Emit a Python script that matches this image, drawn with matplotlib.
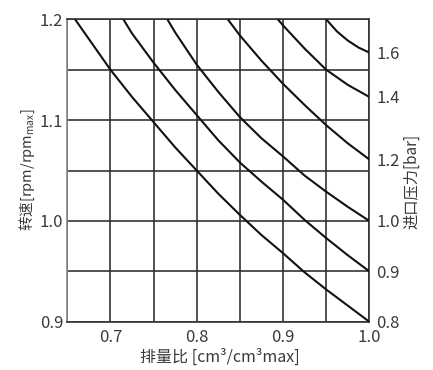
import matplotlib
matplotlib.use("Agg")
import matplotlib.pyplot as plt
from matplotlib.ticker import MultipleLocator

plt.rcParams['font.family'] = ['Noto Sans CJK SC', 'DejaVu Sans']
plt.rcParams['font.weight'] = 'light'
plt.rcParams['mathtext.fontset'] = 'custom'
plt.rcParams['mathtext.rm'] = 'Noto Sans CJK SC'

# displacement ratio / speed ratio readings for each inlet pressure
x_08 = [0.659, 0.70, 0.725, 0.75, 0.775, 0.80, 0.825, 0.85, 0.875, 0.90, 0.925, 0.95, 0.975, 1.00]
y_08 = [1.200, 1.150, 1.123, 1.098, 1.073, 1.050, 1.027, 1.006, 0.986, 0.968, 0.949, 0.932, 0.916, 0.900]

x_09 = [0.715, 0.725, 0.75, 0.775, 0.80, 0.825, 0.85, 0.875, 0.90, 0.925, 0.95, 0.975, 1.00]
y_09 = [1.200, 1.186, 1.157, 1.130, 1.105, 1.080, 1.058, 1.039, 1.021, 1.001, 0.983, 0.966, 0.950]

x_10 = [0.766, 0.775, 0.80, 0.825, 0.85, 0.875, 0.90, 0.925, 0.95, 0.975, 1.00]
y_10 = [1.200, 1.187, 1.155, 1.128, 1.103, 1.082, 1.064, 1.045, 1.029, 1.014, 1.000]

x_12 = [0.836, 0.85, 0.875, 0.90, 0.925, 0.95, 0.975, 1.00]
y_12 = [1.200, 1.184, 1.159, 1.136, 1.115, 1.095, 1.077, 1.061]

x_14 = [0.894, 0.90, 0.925, 0.95, 0.975, 1.00]
y_14 = [1.200, 1.194, 1.171, 1.150, 1.135, 1.123]

x_16 = [0.950, 0.9625, 0.975, 0.9875, 1.00]
y_16 = [1.200, 1.188, 1.179, 1.172, 1.167]

curves = [(x_08, y_08), (x_09, y_09), (x_10, y_10), (x_12, y_12), (x_14, y_14), (x_16, y_16)]
pressure_labels = ['0.8', '0.9', '1.0', '1.2', '1.4', '1.6']

x_ticks = [0.7, 0.8, 0.9, 1.0]
y_ticks = [0.9, 1.0, 1.1, 1.2]

fig = plt.figure(figsize=(4.33, 3.70), dpi=100)
ax = fig.add_axes([0.1554, 0.1305, 0.6975, 0.8173])

for x, y in curves:
    ax.plot(x, y, color='#111111', linewidth=1.5, solid_capstyle='butt', zorder=3)

ax.set_xlim(0.65, 1.0)
ax.set_ylim(0.9, 1.2)
ax.xaxis.set_minor_locator(MultipleLocator(0.05))
ax.yaxis.set_minor_locator(MultipleLocator(0.05))
ax.set_xticks(x_ticks)
ax.set_yticks(y_ticks)
ax.set_xticklabels(['%.1f' % v for v in x_ticks])
ax.set_yticklabels(['%.1f' % v for v in y_ticks])
ax.grid(True, which='both', color='#333333', linewidth=1.2)
ax.tick_params(which='both', length=0, labelsize=12, labelcolor='#3a3a3a')
ax.tick_params(axis='x', pad=5)
ax.tick_params(axis='y', pad=3)
for s in ax.spines.values():
    s.set_color('#333333')
    s.set_linewidth(1.2)
ax.spines['left'].set_color('#888888')

# right axis carries the inlet pressure of each curve
ax2 = ax.twinx()
ax2.set_ylim(0.9, 1.2)
ax2.set_yticks([y[-1] for x, y in curves])
ax2.set_yticklabels(pressure_labels)
ax2.tick_params(length=0, labelsize=12, labelcolor='#3a3a3a', pad=5)
for s in ax2.spines.values():
    s.set_visible(False)

ax.set_xlabel('排量比 [cm³/cm³max]', fontsize=11.5, color='#3a3a3a')
ax.set_ylabel('转速[rpm/rpm$_{\\mathrm{max}}$]', fontsize=10.5, color='#3a3a3a')
ax2.set_ylabel('进口压力[bar]', fontsize=11, color='#3a3a3a')
ax.xaxis.set_label_coords(0.506, -0.090)
ax.yaxis.set_label_coords(-0.100, 0.502)
ax2.yaxis.set_label_coords(1.112, 0.465)

fig.savefig('out.png', dpi=100, facecolor='white')
